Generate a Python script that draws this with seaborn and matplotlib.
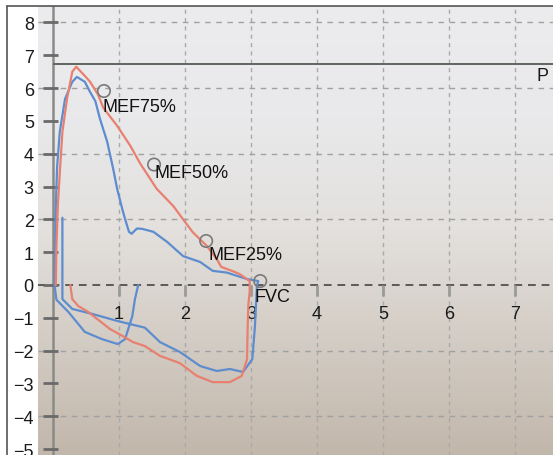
import numpy as np
import pandas as pd
import seaborn as sns
import matplotlib.pyplot as plt
from matplotlib.colors import LinearSegmentedColormap
from matplotlib.lines import Line2D

# flow-volume loops (volume in L, flow in L/s)
red_vol = [0.04, 0.05, 0.07, 0.10, 0.14, 0.21, 0.29, 0.35, 0.48, 0.56, 0.68, 0.76, 0.97,
           1.17, 1.32, 1.45, 1.57, 1.82, 1.97, 2.12, 2.33, 2.48, 2.55, 2.63, 2.75, 2.83,
           2.98, 2.98, 2.96, 2.95, 2.94, 2.86, 2.68, 2.42, 2.18, 1.92, 1.62, 1.39, 1.21,
           1.05, 0.86, 0.53, 0.38, 0.29, 0.26]
red_flow = [0.0, 1.2, 2.4, 3.4, 4.66, 5.67, 6.5, 6.65, 6.37, 6.19, 5.8, 5.4, 4.85,
            4.24, 3.7, 3.3, 2.93, 2.41, 2.0, 1.6, 1.19, 0.79, 0.55, 0.49, 0.4, 0.33,
            0.12, -0.21, -0.6, -1.25, -2.26, -2.77, -2.96, -2.96, -2.77, -2.38, -2.16, -1.86, -1.74,
            -1.55, -1.34, -0.82, -0.64, -0.43, 0.0]

blue_vol = [1.29, 1.24, 1.20, 1.09, 0.98, 0.74, 0.48, 0.23, 0.05, 0.02, 0.03, 0.04, 0.06,
            0.10, 0.18, 0.29, 0.36, 0.48, 0.56, 0.64, 0.71, 0.82, 0.91, 0.97, 1.05, 1.09,
            1.15, 1.19, 1.27, 1.35, 1.52, 1.73, 1.97, 2.23, 2.42, 2.63, 2.94, 3.11, 3.09,
            3.06, 3.02, 2.88, 2.68, 2.48, 2.23, 1.92, 1.62, 1.39, 0.98, 0.59, 0.29, 0.14, 0.14]
blue_flow = [0.0, -0.43, -0.95, -1.65, -1.8, -1.65, -1.43, -0.82, -0.45, 0.0, 1.2, 2.4, 3.6,
             4.66, 5.67, 6.19, 6.34, 6.19, 5.88, 5.6, 5.06, 4.36, 3.54, 2.93, 2.3, 2.01,
             1.62, 1.56, 1.72, 1.71, 1.62, 1.31, 0.88, 0.7, 0.43, 0.38, 0.18, 0.12, -0.03,
             -1.25, -2.26, -2.65, -2.56, -2.62, -2.47, -2.04, -1.74, -1.3, -1.1, -0.88, -0.73, -0.43, 2.05]

mark_labels = ["MEF75%", "MEF50%", "MEF25%", "FVC"]
mark_vol = [0.77, 1.53, 2.32, 3.14]
mark_flow = [5.91, 3.67, 1.34, 0.12]

pef_line = 6.72
x_ticks = [1, 2, 3, 4, 5, 6, 7]
y_ticks = [8, 7, 6, 5, 4, 3, 2, 1, 0, -1, -2, -3, -4, -5]

sns.set_style("white")
plt.rcParams['font.family'] = ['Liberation Sans', 'DejaVu Sans']

fig = plt.figure(figsize=(5.53, 4.56), dpi=100)
fig.patch.set_facecolor("white")
ax = fig.add_axes([38 / 553, 0, 515 / 553, 449 / 456])
xlim = (-0.23, 7.58)
ylim = (-5.18, 8.5)

# paper photo background: light at the top, brownish at the bottom
paper = LinearSegmentedColormap.from_list(
    "paper", ["#c2b7ab", "#d3ccc4", "#e3e0dd", "#e9e9eb", "#ececee"])
grad = np.linspace(0, 1, 200).reshape(-1, 1)
ax.imshow(grad, cmap=paper, origin="lower", aspect="auto",
          extent=[xlim[0], xlim[1], ylim[0], ylim[1]], zorder=0)

# grid
for gx in x_ticks:
    ax.axvline(gx, color="#a9a9a9", lw=1, ls=(0, (3, 3)), zorder=1)
for gy in [8, 6, 4, 2, -2, -4]:
    ax.axhline(gy, color="#a0a0a0", lw=1, ls=(0, (4, 4)), zorder=1)

# axes drawn on the paper
ax.axvline(0, color="#8a8a86", lw=1.8, zorder=2)
ax.axhline(0, color="#5a5a5a", lw=1.4, ls=(0, (4, 3)), zorder=2)
ax.hlines(pef_line, 0, xlim[1], color="#5f665f", lw=1.4, zorder=2)
ax.hlines(y_ticks, -0.15, 0.07, color="#6a6a6a", lw=2, zorder=2)
ax.vlines(x_ticks, -0.35, 0, color="#9a9a96", lw=2, zorder=2)
for gx in x_ticks:
    ax.text(gx, -0.88, str(gx), ha="center", va="center", fontsize=13, color="#1a1a1a")
ax.text(7.33, 6.37, "P", ha="left", va="center", fontsize=13, color="#1a1a1a")

red = pd.DataFrame({"vol": red_vol, "flow": red_flow})
blue = pd.DataFrame({"vol": blue_vol, "flow": blue_flow})
sns.lineplot(data=red, x="vol", y="flow", sort=False, estimator=None,
             color="#e8806f", lw=1.6, ax=ax, zorder=4)
sns.lineplot(data=blue, x="vol", y="flow", sort=False, estimator=None,
             color="#5d8ccf", lw=1.6, ax=ax, zorder=3)

marks = pd.DataFrame({"vol": mark_vol, "flow": mark_flow, "label": mark_labels})
sns.scatterplot(data=marks, x="vol", y="flow", s=80, facecolor="none",
                edgecolor="#7a7a7a", linewidth=1.2, ax=ax, zorder=5)
offsets = {"MEF75%": (-1, -11), "MEF50%": (0, -6), "MEF25%": (2, -10), "FVC": (-4, -11)}
for _, r in marks.iterrows():
    ax.annotate(r["label"], (r["vol"], r["flow"]), xytext=offsets[r["label"]],
                textcoords="offset points", ha="left", va="center",
                fontsize=13, color="#111111", zorder=6)

ax.set_xlim(*xlim)
ax.set_ylim(*ylim)
ax.set_xticks([])
ax.set_yticks(y_ticks)
ax.set_yticklabels([str(t).replace("-", "\u2212") for t in y_ticks], fontsize=13, color="#1a1a1a")
ax.tick_params(axis="y", length=0, pad=3)
ax.set_xlabel("")
ax.set_ylabel("")
for s in ax.spines.values():
    s.set_visible(False)

# photo frame edge
fig.add_artist(Line2D([7 / 553, 7 / 553], [0, 449 / 456], color="#555555", lw=1.2))
fig.add_artist(Line2D([7 / 553, 1], [449 / 456, 449 / 456], color="#555555", lw=1.2))

plt.savefig("out.png", dpi=100)
plt.close()
